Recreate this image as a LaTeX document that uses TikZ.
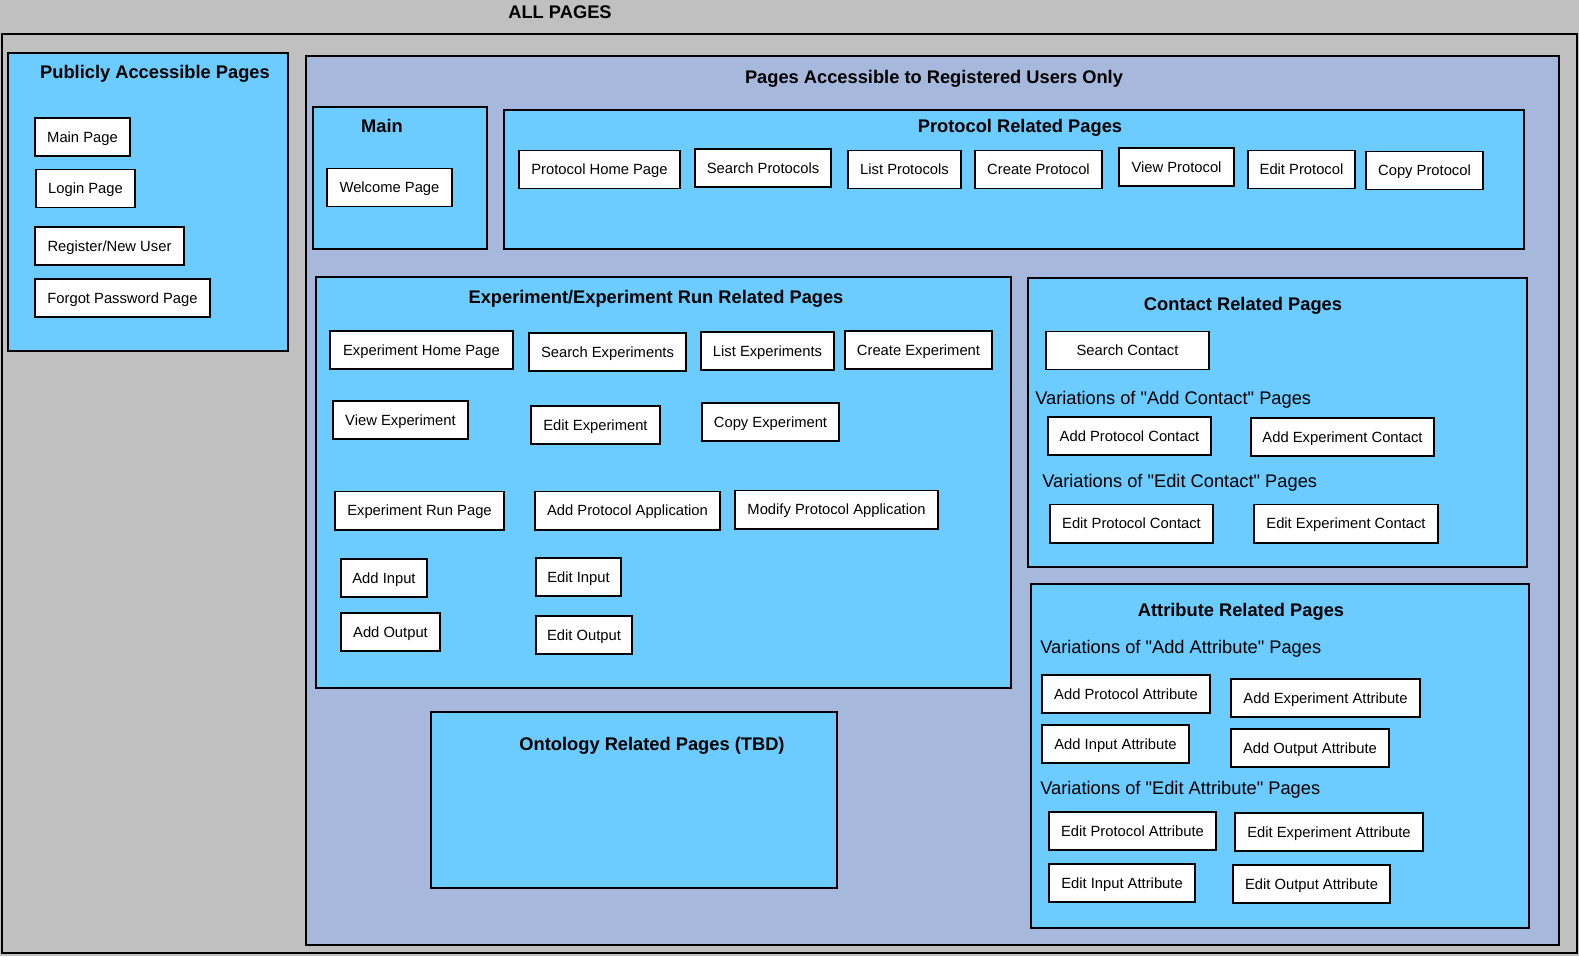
\documentclass[tikz,border=0pt]{standalone}
\usepackage{fontspec}
\setmainfont{Liberation Sans}[Ligatures=TeXOff]
\usepackage{tikz}
\usetikzlibrary{positioning}

\definecolor{bggray}{RGB}{192,192,192}
\definecolor{regblue}{RGB}{166,184,220}
\definecolor{skyblue}{RGB}{108,203,255}

\begin{document}
\begin{tikzpicture}[
  x=0.025cm, y=-0.025cm,
  group/.style={rectangle, draw=black, line width=1.4pt, fill=skyblue, inner sep=0pt},
  page/.style={rectangle, draw=black, line width=1.4pt, fill=white, minimum height=0.95cm,
    inner sep=0pt, text height=7.5pt, text depth=0pt, font=\fontsize{10.5}{12}\selectfont},
  heading/.style={font=\fontsize{13}{15}\selectfont\bfseries, inner sep=0pt,
    text height=9.3pt, text depth=0pt},
  variant/.style={font=\fontsize{13}{15}\selectfont, inner sep=0pt, anchor=west,
    text height=9.3pt, text depth=0pt}
]
\fill[bggray] (0,0) rectangle (1579,956);
\useasboundingbox (0,0) rectangle (1579,956);

\node[heading] (alltitle) at (560,12) {ALL PAGES};
\node[group, fill=bggray, minimum width=39.375cm, minimum height=22.975cm] (allframe) at (789.5,493.5) {};

\node[group, minimum width=7cm, minimum height=7.45cm] (public) at (148,202) {};
\node[heading] (pubtitle) at (155,72) {Publicly Accessible Pages};
\node[page, minimum width=2.375cm] (mainpg) at (82.5,137) {Main Page};
\node[page, minimum width=2.475cm] (login) at (85.5,188.5) {Login Page};
\node[page, minimum width=3.725cm] (register) at (109.5,246) {Register/New User};
\node[page, minimum width=4.375cm] (forgot) at (122.5,298) {Forgot Password Page};

\node[group, fill=regblue, minimum width=31.325cm, minimum height=22.225cm] (registered) at (932.5,500.5) {};
\node[heading] (regtitle) at (934,77) {Pages Accessible to Registered Users Only};

\node[group, minimum width=4.35cm, minimum height=3.55cm] (mainbox) at (400,178) {};
\node[heading] (maintitle) at (382,126) {Main};
\node[page, minimum width=3.125cm] (welcome) at (389.5,187.5) {Welcome Page};

\node[group, minimum width=25.5cm, minimum height=3.475cm] (protocol) at (1014,179.5) {};
\node[heading] (prottitle) at (1020,126) {Protocol Related Pages};
\node[page, minimum width=4.025cm] (prothome) at (599.5,169.5) {Protocol Home Page};
\node[page, minimum width=3.4cm] (protsearch) at (763,168) {Search Protocols};
\node[page, minimum width=2.825cm] (protlist) at (904.5,169.5) {List Protocols};
\node[page, minimum width=3.175cm] (protcreate) at (1038.5,169.5) {Create Protocol};
\node[page, minimum width=2.875cm] (protview) at (1176.5,167) {View Protocol};
\node[page, minimum width=2.675cm] (protedit) at (1301.5,169.5) {Edit Protocol};
\node[page, minimum width=2.925cm] (protcopy) at (1424.5,170.5) {Copy Protocol};

\node[group, minimum width=17.375cm, minimum height=10.275cm] (experiment) at (663.5,482.5) {};
\node[heading] (exptitle) at (656,297) {Experiment/Experiment Run Related Pages};
\node[page, minimum width=4.575cm] (exphome) at (421.5,350) {Experiment Home Page};
\node[page, minimum width=3.925cm] (expsearch) at (607.5,352) {Search Experiments};
\node[page, minimum width=3.325cm] (explist) at (767.5,351) {List Experiments};
\node[page, minimum width=3.675cm] (expcreate) at (918.5,350) {Create Experiment};
\node[page, minimum width=3.375cm] (expview) at (400.5,420) {View Experiment};
\node[page, minimum width=3.225cm] (expedit) at (595.5,425) {Edit Experiment};
\node[page, minimum width=3.425cm] (expcopy) at (770.5,422) {Copy Experiment};
\node[page, minimum width=4.225cm] (runpage) at (419.5,510.5) {Experiment Run Page};
\node[page, minimum width=4.625cm] (addapp) at (627.5,510.5) {Add Protocol Application};
\node[page, minimum width=5.075cm] (modapp) at (836.5,509.5) {Modify Protocol Application};
\node[page, minimum width=2.15cm] (addin) at (384,578) {Add Input};
\node[page, minimum width=2.125cm] (editin) at (578.5,577) {Edit Input};
\node[page, minimum width=2.475cm] (addout) at (390.5,632) {Add Output};
\node[page, minimum width=2.4cm] (editout) at (584,635) {Edit Output};

\node[group, minimum width=10.15cm, minimum height=4.4cm] (ontology) at (634,800) {};
\node[heading] (onttitle) at (652,744) {Ontology Related Pages (TBD)};

\node[group, minimum width=12.475cm, minimum height=7.225cm] (contact) at (1277.5,422.5) {};
\node[heading] (contitle) at (1243,304) {Contact Related Pages};
\node[page, minimum width=4.075cm] (csearch) at (1127.5,350.5) {Search Contact};
\node[variant] (caddlabel) at (1035,398) {Variations of "Add Contact" Pages};
\node[page, minimum width=4.075cm] (caddprot) at (1129.5,436) {Add Protocol Contact};
\node[page, minimum width=4.575cm] (caddexp) at (1342.5,437) {Add Experiment Contact};
\node[variant] (ceditlabel) at (1042,481) {Variations of "Edit Contact" Pages};
\node[page, minimum width=4.075cm] (ceditprot) at (1131.5,523.5) {Edit Protocol Contact};
\node[page, minimum width=4.6cm] (ceditexp) at (1346,523.5) {Edit Experiment Contact};

\node[group, minimum width=12.45cm, minimum height=8.6cm] (attribute) at (1280,756) {};
\node[heading] (attrtitle) at (1241,610) {Attribute Related Pages};
\node[variant] (aaddlabel) at (1040,647) {Variations of "Add Attribute" Pages};
\node[page, minimum width=4.2cm] (aaddprot) at (1126,694) {Add Protocol Attribute};
\node[page, minimum width=4.725cm] (aaddexp) at (1325.5,698) {Add Experiment Attribute};
\node[page, minimum width=3.675cm] (aaddin) at (1115.5,744) {Add Input Attribute};
\node[page, minimum width=3.95cm] (aaddout) at (1310,748) {Add Output Attribute};
\node[variant] (aeditlabel) at (1040,788) {Variations of "Edit Attribute" Pages};
\node[page, minimum width=4.175cm] (aeditprot) at (1132.5,831) {Edit Protocol Attribute};
\node[page, minimum width=4.7cm] (aeditexp) at (1329,832) {Edit Experiment Attribute};
\node[page, minimum width=3.65cm] (aeditin) at (1122,883) {Edit Input Attribute};
\node[page, minimum width=3.925cm] (aeditout) at (1311.5,884) {Edit Output Attribute};
\end{tikzpicture}
\end{document}
